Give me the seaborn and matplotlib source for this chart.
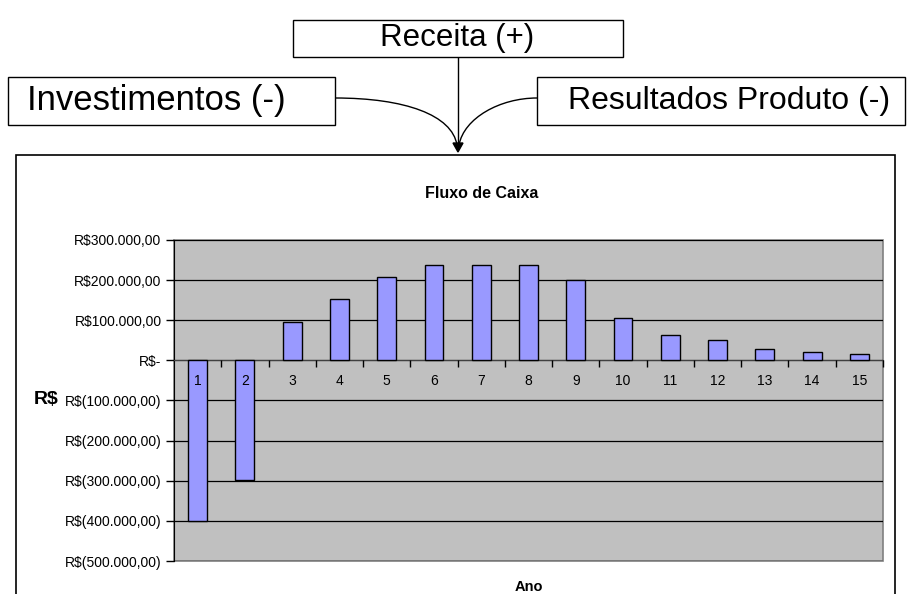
import numpy as np
import pandas as pd
import matplotlib
matplotlib.use('Agg')
import matplotlib.pyplot as plt
from matplotlib.patches import Rectangle, PathPatch, Polygon
from matplotlib.path import Path
import seaborn as sns

# dados do fluxo de caixa
anos = [str(a) for a in range(1, 16)]
fluxo = [-400000, -298000, 95000, 153000, 207000, 237000, 237000, 237000,
         201000, 106000, 64000, 51000, 29000, 22000, 17000]
y_ticks = [300000, 200000, 100000, 0, -100000, -200000, -300000, -400000, -500000]
y_labels = ['R$300.000,00', 'R$200.000,00', 'R$100.000,00', 'R$-',
            'R$(100.000,00)', 'R$(200.000,00)', 'R$(300.000,00)',
            'R$(400.000,00)', 'R$(500.000,00)']
caixas = ['Receita (+)', 'Investimentos (-)', 'Resultados Produto (-)']

df = pd.DataFrame({'Ano': anos, 'Fluxo': fluxo})

sns.set_style('white')
plt.rcParams['font.family'] = ['Liberation Sans', 'DejaVu Sans']
plt.rcParams['text.color'] = 'black'
plt.rcParams['xtick.labelcolor'] = 'black'
plt.rcParams['ytick.labelcolor'] = 'black'

W, H = 909, 594
fig = plt.figure(figsize=(W / 100, H / 100), dpi=100)

def fx(x):
    return x / W

def fy(y):
    return 1 - y / H

# moldura do grafico (pixels)
fig.patches.append(Rectangle((fx(16), fy(620)), fx(895) - fx(16), fy(155) - fy(620),
                             transform=fig.transFigure, fill=False,
                             edgecolor='black', linewidth=1.2, clip_on=False))

ax = fig.add_axes([fx(174), fy(561), fx(883) - fx(174), fy(240) - fy(561)])
ax.set_facecolor('#C0C0C0')

sns.barplot(data=df, x='Ano', y='Fluxo', color='#9999FF', edgecolor='black',
            linewidth=1, width=0.4, saturation=1, ax=ax, zorder=3)

ax.set_xlim(-0.5, 14.5)
ax.set_ylim(-500000, 300000)
ax.set_yticks(y_ticks)
ax.set_yticklabels(y_labels, fontsize=10, color='black')
ax.yaxis.grid(True, color='black', linewidth=0.9)
ax.set_axisbelow(True)
ax.xaxis.set_zorder(4)  # rotulos 1..15 por cima das barras
ax.tick_params(axis='y', direction='out', length=6, width=1, color='black', pad=3, left=True)

# eixo de categorias cruzando em zero
ax.spines['bottom'].set_position(('data', 0))
ax.spines['bottom'].set_color('#404040')
ax.spines['top'].set_visible(False)
ax.spines['right'].set_visible(False)
ax.spines['left'].set_color('black')
ax.patch.set_edgecolor('#808080')
ax.patch.set_linewidth(1.2)

ax.set_xticks(np.arange(0.5, 15, 1))
ax.set_xticklabels([])
ax.set_xticks(np.arange(0, 15), minor=True)
ax.set_xticklabels(anos, minor=True, fontsize=10, color='black')
ax.tick_params(axis='x', which='major', direction='out', length=5, width=1, color='black', bottom=True)
ax.tick_params(axis='x', which='minor', length=0, pad=10, bottom=True)
ax.set_xlabel('')
ax.set_ylabel('')

fig.text(fx(482), fy(193), 'Fluxo de Caixa', ha='center', va='center', fontsize=11.5, fontweight='bold')
fig.text(fx(529), fy(587), 'Ano', ha='center', va='center', fontsize=10.5, fontweight='bold')
fig.text(fx(46), fy(400), 'R$', ha='center', va='center', fontsize=14, fontweight='bold')

# caixas de texto acima do grafico
boxes = [(293, 20, 623, 57), (8, 77, 335, 125), (537, 77, 905, 125)]
centros = [(457, 38), (156, 101), (729, 101)]
tamanhos = [22.5, 25, 23]
for (x0, y0, x1, y1), (cx, cy), fs, txt in zip(boxes, centros, tamanhos, caixas):
    fig.patches.append(Rectangle((fx(x0), fy(y1)), fx(x1) - fx(x0), fy(y0) - fy(y1),
                                 transform=fig.transFigure, fill=False,
                                 edgecolor='black', linewidth=1, clip_on=False))
    fig.text(fx(cx), fy(cy), txt, ha='center', va='center', fontsize=fs)

tip = (458, 152)
linhas = [
    [(458, 57), (458, 145)],
    [(335, 98), (405, 98), (452, 115), (457, 145)],
    [(537, 98), (500, 98), (464, 118), (459, 145)],
]
for pts in linhas:
    codes = [Path.MOVETO] + ([Path.LINETO] if len(pts) == 2 else [Path.CURVE4] * 3)
    path = Path([(fx(x), fy(y)) for x, y in pts], codes)
    fig.patches.append(PathPatch(path, transform=fig.transFigure, fill=False,
                                 edgecolor='black', linewidth=1, clip_on=False))
fig.patches.append(Polygon([(fx(453), fy(143)), (fx(463), fy(143)), (fx(tip[0]), fy(tip[1]))],
                           transform=fig.transFigure, closed=True, facecolor='black',
                           edgecolor='black', clip_on=False))

fig.savefig('out.png', dpi=100)
